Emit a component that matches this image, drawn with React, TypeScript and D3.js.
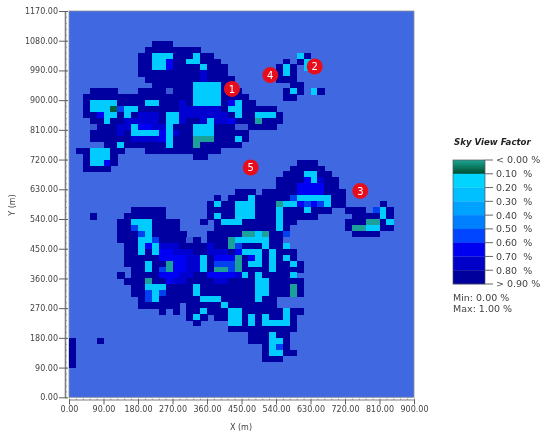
import React, { useRef, useEffect } from 'react';
import * as d3 from 'd3';

// grid cell size of the model, in metres
const cellSize = 18;
const xTicks = d3.range(0, 901, 90);
const yTicks = d3.range(0, 1171, 90);

// one string per row from the top (y = 1170) down, one char per 18 m column
// . > 0.9   n 0.85   d 0.75   b 0.65   m 0.55   x 0.88   c 0.15   t 0.08   g 0.02
const svfRows = [
  "", "", "", "", "",
  ".......... ..nnn.....",
  ".......... .nnnnnnnn.",
  ".......... nncccnnncn n......... ...cn.....",
  ".......... nnccbnnccn nn........ .n.nc.....",
  ".......... nnccbnnnnc nnn....... ncn.c.....",
  ".......... nnnnnnnnnd nnn....... ncn.......",
  ".......... .nnnnnnnnd nnnn...... nnn.......",
  ".......... ..nnnnnncc ccnn...... ..nn......",
  "...nnnn... nnnnxnnncc ccnnn..... .ncn.cn...",
  "..nnnnnnnn nnnnnnnncc ccnnnn.... .nn.......",
  "..nccccnnn nccnnndncc ccnbcnn...",
  "..ncccgmcc nnnnnndddd ddnccnnnnn",
  "..nnbccncn dddnccdddd dddncnnccc n",
  "...nncnndd dddnccdnnd cddbnnntnn n",
  "...xnnnddc bbddcnnncc cnnnxxnnnn",
  "...nnnndnc cccbcdnncc cnnnnn....",
  "...nnnnnnd dddbcnnntt tnnncn....",
  ".....nncnn nnnncnnntn nnnnn.....",
  ".nncccnn.. .nnnnnnnnn nn........",
  "..ncccn... ........nn",
  "..nccbn... .......... .......... ...nnn....",
  "..nnnn.... .......... .......... ..nnnnn...",
  ".......... .......... .......... .nnnccnn..",
  ".......... .......... .......... nnnnbcdnn.",
  ".......... .......... .......... nnnbbbbnn.",
  ".......... .......... ....nnn.nn nnnbbbbnnn",
  ".......... .......... .n.nnncnnn nnmcccccnn",
  ".......... .......... ncnncccnnn tccbmbmcnn .....n....",
  ".........n nnnn...... nnnncccnnn cnnncnnn.. nnn.mcn...",
  "...n....nn nnnn...... ncnncccnnn cnnnnn.... .nnnncn...",
  ".......nnc ccnnnn...n .ncccnnnnn cnn....... nnnttnc...",
  ".......nnm ccnnnn.... .nnnnnnnnn cn........ nttccnn...",
  ".......nnn mcnnnnn... nnnnnttctn nm........ .nnnn.....",
  ".......nnn ccmnnnnxn. nnntcccccn n.........",
  "........nn cbcdddnnnn dnntmnnncn nc........",
  "........nn cncbbdddnn dddnbcccnc nnn.......",
  "........nn nnnbbbbddc nbbbtnbcnc ncn.......",
  "........nn ncnntbbddc nmmmtnccnc nncn......",
  ".........n ncnmtbbddc nttmtnnnnc nnnn......",
  ".......n.n nnnbbbddnn bbbbdcncnn nnc.......",
  "........nn ntnnbddnnn nddnnnnccn nnnn......",
  ".........n ncccnnnncn nnnnnnnccn nntn......",
  ".........n nmcmnnnncn nnnnnnnccn nntn......",
  ".......... nmcnnnnnnc ccnnnnncnn",
  ".......... nnnnnn.nnn nncnnnnnnn",
  ".......... ...n.n.nnc nnnccnnnnn ncnn......",
  ".......... .......ncn .nnccncncn ncn.......",
  ".......... ........n. ...ccncncc ccn.......",
  ".......... .......... ...nnnnnnn nnn.......",
  ".......... .......... ......nnnc nn........",
  "n...n..... .......... ......nnnc cn........",
  "n......... .......... ........nc mn........",
  "n......... .......... ........nc cnn.......",
  "n......... .......... ........nn n.........",
  "n.........",
];

const svfByCode: Record<string, number> = { g: 0.02, t: 0.08, c: 0.15, m: 0.55, b: 0.65, d: 0.75, n: 0.85, x: 0.88, '.': 0.95 };

const svfBreaks = [0.05, 0.1, 0.2, 0.3, 0.4, 0.5, 0.6, 0.7, 0.8, 0.87, 0.9];
const svfColors = ['#006040', '#1fa09a', '#00ccff', '#00bcff', '#009cff', '#0078ff', '#0040f0', '#0000f5', '#0000d0', '#0000a0', '#3a58d4', '#4169e1'];

// legend
const legendLabels = ['< 0.00 %', '0.10  %', '0.20  %', '0.30  %', '0.40  %', '0.50  %', '0.60  %', '0.70  %', '0.80  %', '> 0.90 %'];
const legendColors = ['url(#svfTop)', '#00d4ff', '#00c0ff', '#00a2ff', '#0080ff', '#0044ff', '#0000f0', '#0000c8', '#00009c'];

// numbered red markers, in metres
const markerIds = ['1', '2', '3', '4', '5'];
const markerX = [425, 641, 760, 525, 474];
const markerY = [934, 1002, 625, 976, 696];

const App = () => {
  const svgRef = useRef<SVGSVGElement>(null);

  useEffect(() => {
    const svg = d3.select(svgRef.current);
    svg.selectAll('*').remove();

    const x = d3.scaleLinear().domain([0, 900]).range([69, 414]);
    const y = d3.scaleLinear().domain([0, 1170]).range([397.3, 11]);
    const color = d3.scaleThreshold<number, string>().domain(svfBreaks).range(svfColors);

    const defs = svg.append('defs');
    defs.append('filter').attr('id', 'soft').append('feGaussianBlur').attr('stdDeviation', 0.45);
    const grad = defs.append('linearGradient').attr('id', 'svfTop').attr('x2', 0).attr('y2', 1);
    grad.append('stop').attr('offset', 0).attr('stop-color', '#1fa596');
    grad.append('stop').attr('offset', 0.5).attr('stop-color', '#0a7a60');
    grad.append('stop').attr('offset', 1).attr('stop-color', '#004a30');

    const root = svg.append('g').attr('filter', 'url(#soft)').style('font-family', '"DejaVu Sans"').attr('fill', '#444');

    // plot area
    root.append('rect')
      .attr('x', x(0)).attr('y', y(1170))
      .attr('width', x(900) - x(0)).attr('height', y(0) - y(1170))
      .attr('fill', color(0.95))
      .attr('stroke', '#8a8f99').attr('stroke-width', 0.8);

    // heat cells
    const cells = svfRows.flatMap((row, r) =>
      row.replace(/ /g, '').split('').map((code, c) => ({ r, c, value: svfByCode[code] }))
    ).filter(d => d.value < 0.9);

    root.append('g').attr('shape-rendering', 'crispEdges').selectAll('rect').data(cells).enter().append('rect')
      .attr('x', d => x(d.c * cellSize))
      .attr('y', d => y(1170 - d.r * cellSize))
      .attr('width', x(cellSize) - x(0) + 0.5)
      .attr('height', y(0) - y(cellSize) + 0.5)
      .attr('fill', d => color(d.value));

    // axes
    const styleAxis = (g: any) => {
      g.selectAll('path').attr('stroke', '#808080');
      g.selectAll('line').attr('stroke', '#606060');
      g.selectAll('text').attr('fill', '#444').style('font-size', '8px').style('font-family', '"DejaVu Sans"');
    };
    const fmt = (d: any) => d3.format('.2f')(d);

    root.append('g').attr('transform', 'translate(65,0)')
      .call(d3.axisRight(y).tickValues(d3.range(0, 1171, cellSize)).tickSize(2).tickFormat(() => '') as any)
      .call((g: any) => { g.select('path').remove(); g.selectAll('line').attr('stroke', '#777').attr('stroke-width', 0.7); });
    root.append('g').attr('transform', 'translate(65,0)')
      .call(d3.axisLeft(y).tickValues(yTicks).tickSize(6).tickSizeOuter(0).tickPadding(1).tickFormat(fmt) as any)
      .call(styleAxis)
      .call((g: any) => {
        g.select('path').attr('stroke-width', 1.6);
        g.selectAll('line').attr('x2', -6).attr('x1', 3);
      });

    root.append('g').attr('transform', 'translate(0,398.5)')
      .call(d3.axisBottom(x).tickValues(d3.range(0, 901, cellSize)).tickSize(1.5).tickFormat(() => '') as any)
      .call((g: any) => { g.select('path').remove(); g.selectAll('line').attr('stroke', '#777').attr('stroke-width', 0.7); });
    root.append('g').attr('transform', 'translate(0,399.5)')
      .call(d3.axisBottom(x).tickValues(xTicks).tickSize(5).tickSizeOuter(0).tickPadding(2).tickFormat(fmt) as any)
      .call(styleAxis)
      .call((g: any) => g.select('path').attr('stroke-width', 1.2));

    root.append('text').attr('x', 241).attr('y', 430).attr('text-anchor', 'middle')
      .style('font-size', '8px').text('X (m)');
    root.append('text').attr('transform', 'translate(15,205) rotate(-90)').attr('text-anchor', 'middle')
      .style('font-size', '8px').text('Y (m)');

    // legend
    const ly = d3.scalePoint<string>().domain(legendLabels).range([160, 284]);
    const step = ly.step();
    const legend = root.append('g');
    legend.selectAll('rect').data(legendColors).enter().append('rect')
      .attr('x', 453).attr('width', 32)
      .attr('y', (_, i) => (ly(legendLabels[i]) as number))
      .attr('height', step + 0.2)
      .attr('fill', d => d);
    legend.append('rect').attr('x', 453).attr('y', 160).attr('width', 32).attr('height', 124)
      .attr('fill', 'none').attr('stroke', '#555').attr('stroke-width', 0.7);
    const rows = legend.selectAll('g').data(legendLabels).enter().append('g')
      .attr('transform', d => `translate(485,${ly(d)})`);
    rows.append('line').attr('x2', 8).attr('stroke', '#666');
    rows.append('text').attr('x', 11).attr('dy', 3.4).style('font-size', '9.5px').style('white-space', 'pre')
      .text(d => d);
    legend.append('text').attr('x', 454).attr('y', 145).attr('fill', '#222')
      .style('font-size', '8.6px').style('font-weight', 'bold').style('font-style', 'italic').text('Sky View Factor');
    legend.append('text').attr('x', 453).attr('y', 301).style('font-size', '9.5px').text('Min: 0.00 %');
    legend.append('text').attr('x', 453).attr('y', 312).style('font-size', '9.5px').text('Max: 1.00 %');

    // markers
    const marks = root.append('g').selectAll('g').data(markerIds).enter().append('g')
      .attr('transform', (_, i) => `translate(${x(markerX[i])},${y(markerY[i])})`);
    marks.append('circle').attr('r', 8).attr('fill', '#e8101c');
    marks.append('text').attr('text-anchor', 'middle').attr('dy', 3.6).attr('fill', '#fff')
      .style('font-size', '10px').text(d => d);
  }, []);

  return <svg ref={svgRef} width={550} height={437} style={{ position: 'absolute', left: 0, top: 0, background: '#fff' }} />;
};

export default App;
